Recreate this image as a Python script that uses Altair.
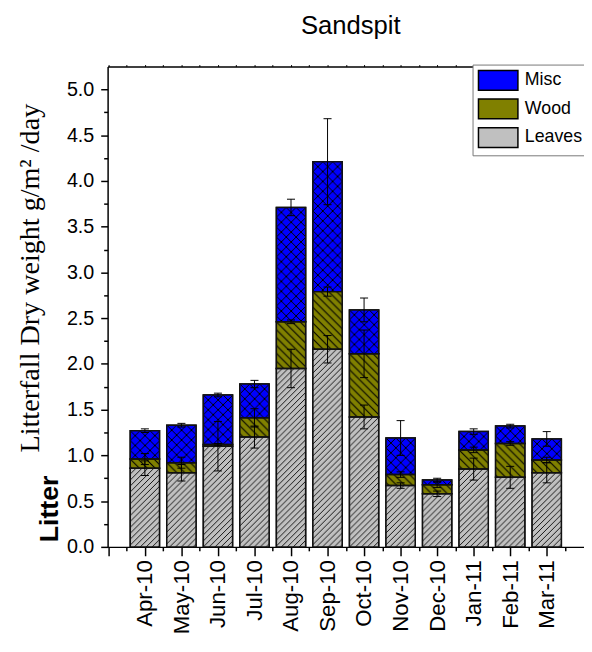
import json
from urllib.parse import quote
import altair as alt
import pandas as pd

months = ["Apr-10", "May-10", "Jun-10", "Jul-10", "Aug-10", "Sep-10",
          "Oct-10", "Nov-10", "Dec-10", "Jan-11", "Feb-11", "Mar-11"]
leaves = [0.86, 0.81, 1.10, 1.20, 1.95, 2.16, 1.42, 0.67, 0.58, 0.85, 0.76, 0.81]
wood = [0.10, 0.11, 0.02, 0.21, 0.51, 0.63, 0.69, 0.12, 0.10, 0.21, 0.37, 0.14]
misc = [0.31, 0.41, 0.54, 0.37, 1.25, 1.42, 0.48, 0.40, 0.05, 0.20, 0.19, 0.23]
leaves_err = [0.08, 0.09, 0.27, 0.12, 0.21, 0.15, 0.13, 0.03, 0.03, 0.12, 0.12, 0.11]
wood_err = [0.06, 0.06, 0.01, 0.10, 0.02, 0.05, 0.26, 0.03, 0.03, 0.03, 0.02, 0.03]
misc_err = [0.02, 0.02, 0.02, 0.04, 0.09, 0.47, 0.13, 0.19, 0.02, 0.03, 0.02, 0.08]
series_names = ["Leaves", "Wood", "Misc"]
legend_order = ["Misc", "Wood", "Leaves"]
y_major = [0.0, 0.5, 1.0, 1.5, 2.0, 2.5, 3.0, 3.5, 4.0, 4.5, 5.0]
y_minor = [0.25, 0.75, 1.25, 1.75, 2.25, 2.75, 3.25, 3.75, 4.25, 4.75]

rows = []
for i, m in enumerate(months):
    for k, (name, vals, errs) in enumerate(zip(series_names,
                                               [leaves, wood, misc],
                                               [leaves_err, wood_err, misc_err])):
        rows.append({"month": m, "idx": i + 1, "series": name, "order": k,
                     "value": vals[i], "err": errs[i]})
df = pd.DataFrame(rows)

# hatch patterns (styles)
def pattern_uri(fill, tile, path, sw):
    svg = ('<svg xmlns="http://www.w3.org/2000/svg">'
           '<defs><pattern id="p" width="%d" height="%d" patternUnits="userSpaceOnUse">'
           '<rect width="%d" height="%d" fill="%s"/>'
           '<path d="%s" stroke="#000" stroke-width="%s" fill="none"/>'
           '</pattern></defs><rect width="100%%" height="100%%" fill="url(#p)"/></svg>'
           % (tile, tile, tile, tile, fill, path, sw))
    return "data:image/svg+xml;charset=utf-8," + quote(svg)

patterns = {
    "Leaves": pattern_uri("#c0c0c0", 6, "M-1,1 l2,-2 M0,6 l6,-6 M5,7 l2,-2", 0.9),
    "Wood": pattern_uri("#808000", 8, "M-1,7 l2,2 M0,0 l8,8 M7,-1 l2,2", 1.1),
    "Misc": pattern_uri("#0000ff", 10, "M0,0 l10,10 M10,0 l-10,10", 1.0),
}

xs = alt.Scale(domain=[-0.02, 13.02], nice=False, zero=False)
ys = alt.Scale(domain=[0, 5.25], nice=False, zero=True)

base = alt.Chart(df).transform_stack(
    as_=["y0", "y1"], stack="value", groupby=["month"],
    sort=[alt.SortField("order", order="ascending")]
).transform_calculate(
    xl="datum.idx - 0.4", xr="datum.idx + 0.4",
    lo="datum.y1 - datum.err", hi="datum.y1 + datum.err",
    cl="datum.idx - 0.11", cr="datum.idx + 0.11"
)

label_expr = ("datum.value >= 1 && datum.value <= 12 ? %s[datum.value - 1] : ''"
              % json.dumps(months))

x_major_axis = alt.Axis(orient="bottom", values=list(range(0, 13)), labelExpr=label_expr,
                        tickSize=9, tickWidth=1.5, tickColor="black",
                        labelAngle=270, labelAlign="right", labelBaseline="middle",
                        labelFont="Liberation Sans", labelFontSize=22.5, labelColor="black",
                        labelPadding=4, domainColor="black", domainWidth=1.5,
                        grid=False, title="", labelOverlap=False)
x_minor_axis = alt.Axis(orient="bottom", values=[v + 0.5 for v in range(0, 13)],
                        tickSize=4, tickWidth=1.5, tickColor="black", labels=False,
                        domain=False, grid=False, title="")
x_top_axis = alt.Axis(orient="top", values=[v * 0.5 for v in range(0, 27)], tickSize=2,
                      tickWidth=1, tickColor="black", labels=False,
                      domainColor="black", domainWidth=1.5, grid=False, title="")
y_major_axis = alt.Axis(orient="left", values=y_major, format=".1f",
                        tickSize=7, tickWidth=1.5, tickColor="black",
                        labelFont="Liberation Sans", labelFontSize=20, labelColor="black",
                        labelPadding=7, domainColor="black", domainWidth=1.5, grid=False,
                        title="Litterfall Dry weight g/m² /day",
                        titleFont="Liberation Serif", titleFontSize=28.5,
                        titleFontWeight="normal", titleColor="black",
                        titleX=-79, titleY=214, titleAngle=270,
                        titleAlign="center", titleBaseline="middle")
y_minor_axis = alt.Axis(orient="left", values=y_minor, tickSize=4, tickWidth=1.5,
                        tickColor="black", labels=False, domain=False, grid=False, title="")
y_litter_axis = alt.Axis(orient="left", labels=False, ticks=False, domain=False, grid=False,
                         title="Litter", titleFont="Liberation Sans", titleFontWeight="bold",
                         titleFontSize=27, titleColor="black", titleX=-59, titleY=448,
                         titleAngle=270, titleAlign="center", titleBaseline="middle")

bars = base.mark_bar(stroke="black", strokeWidth=1.5).encode(
    x=alt.X("xl:Q", scale=xs, axis=x_major_axis),
    x2="xr:Q",
    y=alt.Y("y1:Q", scale=ys, axis=y_major_axis),
    y2="y0:Q",
    color=alt.Color("series:N",
                    scale=alt.Scale(domain=legend_order,
                                    range=["#0000ff", "#808000", "#c0c0c0"]),
                    legend=alt.Legend(title="", orient="none", legendX=370, legendY=-2,
                                      symbolType="M-2,-1H2V1H-2Z", symbolSize=400,
                                      symbolOffset=10,
                                      symbolStrokeColor="black", symbolStrokeWidth=1.5,
                                      symbolOpacity=1,
                                      labelFont="Liberation Sans", labelFontSize=18,
                                      labelColor="black", labelOffset=16, rowPadding=3,
                                      labelLimit=300,
                                      padding=5, strokeColor="#777777", fillColor="white")),
)

image_layers = []
for name in series_names:
    image_layers.append(
        base.transform_filter(alt.datum.series == name).mark_image(aspect=False).encode(
            x=alt.X("xl:Q", scale=xs, axis=None),
            x2="xr:Q",
            y=alt.Y("y1:Q", scale=ys, axis=None),
            y2="y0:Q",
            url=alt.value(patterns[name]),
        )
    )

outline = base.mark_bar(fillOpacity=0, stroke="#111111", strokeWidth=1.5).encode(
    x=alt.X("xl:Q", scale=xs, axis=x_minor_axis),
    x2="xr:Q",
    y=alt.Y("y1:Q", scale=ys, axis=y_minor_axis),
    y2="y0:Q",
)

err = base.mark_rule(color="black", strokeWidth=1).encode(
    x=alt.X("idx:Q", scale=xs, axis=x_top_axis),
    y=alt.Y("lo:Q", scale=ys, axis=y_litter_axis),
    y2="hi:Q",
)
cap_lo = base.mark_rule(color="black", strokeWidth=1).encode(
    x=alt.X("cl:Q", scale=xs, axis=None), x2="cr:Q",
    y=alt.Y("lo:Q", scale=ys, axis=None),
)
cap_hi = base.mark_rule(color="black", strokeWidth=1).encode(
    x=alt.X("cl:Q", scale=xs, axis=None), x2="cr:Q",
    y=alt.Y("hi:Q", scale=ys, axis=None),
)

chart = alt.layer(bars, *image_layers, outline, err, cap_lo, cap_hi).resolve_axis(
    x="independent", y="independent"
).properties(
    width=483, height=487,
    padding={"left": 101, "top": 55, "right": 0, "bottom": 86},
    autosize=alt.AutoSizeParams(type="none"),
    title=alt.TitleParams("Sandspit", font="Liberation Sans", fontSize=26,
                          fontWeight="normal", color="black", anchor="middle",
                          frame="group", offset=25, dx=5),
).configure_view(stroke="transparent")

chart.save("out.html", embed_options={"renderer": "svg", "actions": False})
